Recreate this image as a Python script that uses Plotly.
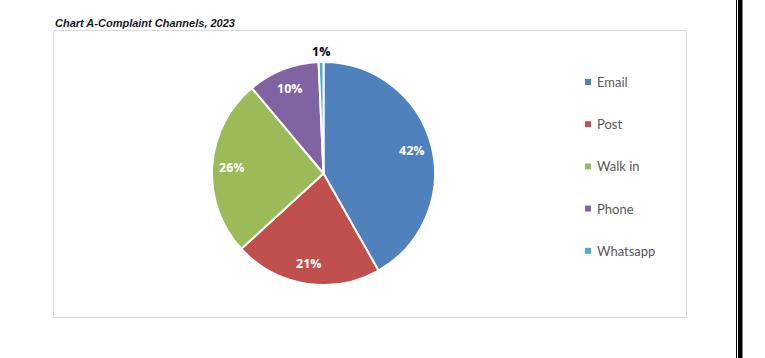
import math
import plotly.graph_objects as go

# ---- data ----
labels = ["Email", "Post", "Walk in", "Phone", "Whatsapp"]
values = [41.8, 21.4, 25.7, 10.4, 0.7]
colors = ["#4F81BD", "#C0504D", "#9BBB59", "#8064A2", "#4BACC6"]
title_text = "Chart A-Complaint Channels, 2023"

# ---- layout helpers (pixel -> paper) ----
W, H = 765, 358
def px(x):
    return x / W
def py(y):
    return 1 - y / H

cx, cy, r = 323.5, 173.5, 111.5  # pie centre / radius in pixels

fig = go.Figure()
fig.add_trace(go.Pie(
    labels=labels,
    values=values,
    sort=False,
    direction="clockwise",
    rotation=0,
    marker=dict(colors=colors, line=dict(color="white", width=2)),
    textinfo="none",
    hoverinfo="label+percent",
    showlegend=False,
    domain=dict(x=[px(cx - r), px(cx + r)], y=[py(cy + r), py(cy - r)]),
))

annotations = []
shapes = []

# percentage labels placed along each slice's mid-angle
total = sum(values)
cum = 0
for i, v in enumerate(values):
    mid = (cum + v / 2) / total * 2 * math.pi
    cum += v
    outside = v / total < 0.03
    rf = 1.09 if outside else 0.82
    x = cx + rf * r * math.sin(mid)
    y = cy - rf * r * math.cos(mid)
    annotations.append(dict(
        x=px(x), y=py(y), xref="paper", yref="paper",
        text=f"{round(v / total * 100)}%", showarrow=False,
        xanchor="center", yanchor="middle",
        font=dict(family="Open Sans", size=12.5,
                  color="black" if outside else "white", weight="bold"),
    ))

# legend
for i, (lab, col) in enumerate(zip(labels, colors)):
    yc = 82 + i * 42.2
    shapes.append(dict(type="rect", xref="paper", yref="paper",
                       x0=px(585), x1=px(591), y0=py(yc + 3), y1=py(yc - 3),
                       fillcolor=col, line=dict(width=0)))
    annotations.append(dict(x=px(595), y=py(yc), xref="paper", yref="paper",
                            text=lab, showarrow=False, xanchor="left", yanchor="middle",
                            font=dict(family="Lato", size=13, color="#595959")))

# title
annotations.append(dict(x=px(53), y=py(22.5), xref="paper", yref="paper",
                        text=f"<b><i>{title_text}</i></b>", showarrow=False,
                        xanchor="left", yanchor="middle",
                        font=dict(family="Liberation Sans", size=11, color="#1a1a1a")))

# chart frame
shapes.append(dict(type="rect", xref="paper", yref="paper",
                   x0=px(53.5), x1=px(686.5), y0=py(317.5), y1=py(30.5),
                   line=dict(color="#D9D9D9", width=1), fillcolor="rgba(0,0,0,0)"))
# page border lines on right
shapes.append(dict(type="line", xref="paper", yref="paper",
                   x0=px(736.5), x1=px(736.5), y0=0, y1=1,
                   line=dict(color="black", width=1)))
shapes.append(dict(type="rect", xref="paper", yref="paper",
                   x0=px(738), x1=px(742.5), y0=0, y1=1,
                   fillcolor="black", line=dict(width=0)))

fig.update_layout(
    width=W, height=H,
    margin=dict(l=0, r=0, t=0, b=0),
    paper_bgcolor="white", plot_bgcolor="white",
    annotations=annotations, shapes=shapes,
)
fig.write_html("out.html")
